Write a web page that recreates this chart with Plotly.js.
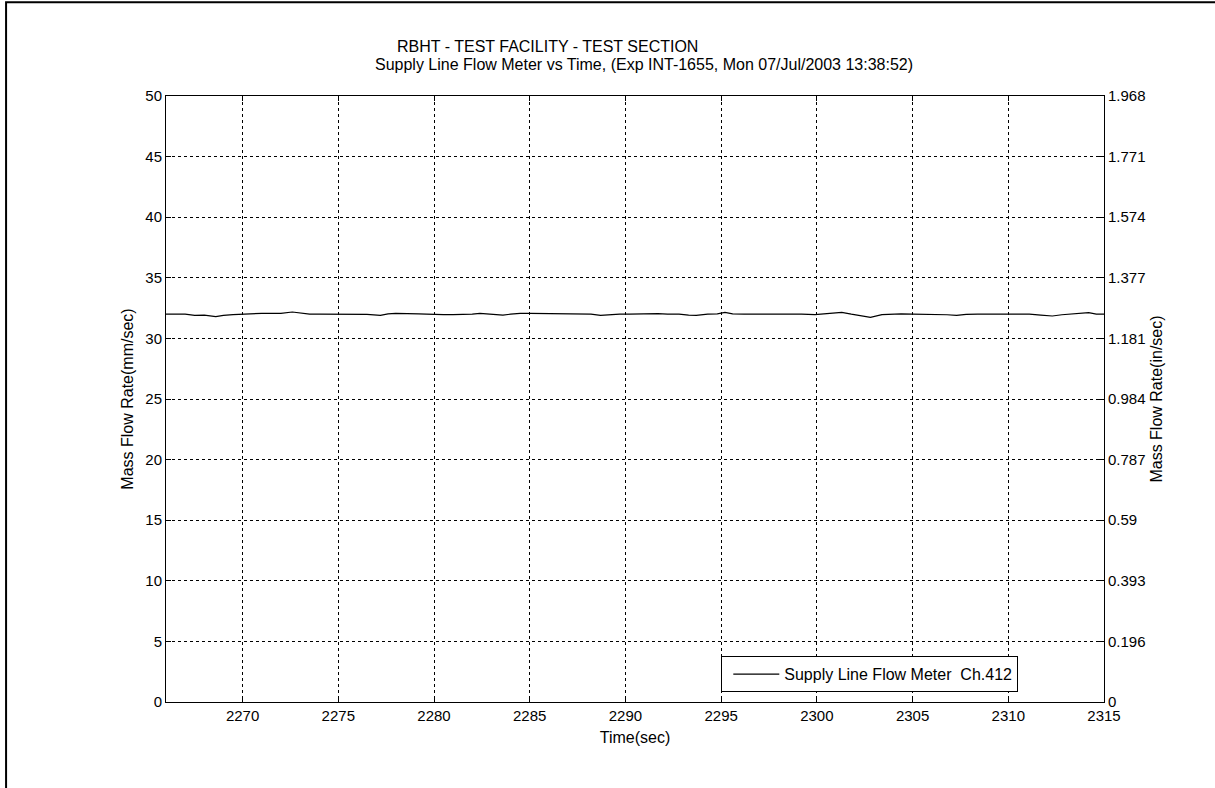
<!DOCTYPE html>
<html>
<head>
<meta charset="utf-8">
<script src="https://cdn.plot.ly/plotly-3.0.1.min.js"></script>
<style>
html,body{margin:0;padding:0;background:#fff;}
#chart{width:1215px;height:788px;}
</style>
</head>
<body>
<div id="chart"></div>
<script>
// Time (sec)
const timeSec = [2266.0, 2266.5, 2267.0, 2267.5, 2268.0, 2268.6, 2269.0, 2269.5, 2270.0, 2270.5,
  2271.0, 2271.5, 2272.0, 2272.6, 2273.0, 2273.5, 2274.0, 2274.5, 2275.0, 2275.5,
  2276.0, 2276.5, 2277.2, 2277.6, 2278.0, 2278.7, 2279.2, 2279.6, 2280.0, 2280.5,
  2281.0, 2281.5, 2282.0, 2282.4, 2283.0, 2283.6, 2284.0, 2284.5, 2285.0, 2285.7,
  2286.3, 2287.0, 2287.6, 2288.2, 2288.7, 2289.2, 2289.7, 2290.2, 2290.7, 2291.2,
  2291.7, 2292.2, 2292.8, 2293.3, 2293.7, 2294.3, 2294.8, 2295.2, 2295.6, 2296.2,
  2296.8, 2297.4, 2298.0, 2298.6, 2299.2, 2299.9, 2300.4, 2300.9, 2301.3, 2301.8,
  2302.3, 2302.8, 2303.4, 2303.9, 2304.4, 2305.0, 2305.6, 2306.2, 2306.8, 2307.3,
  2307.8, 2308.4, 2308.9, 2309.4, 2309.9, 2310.5, 2311.1, 2311.7, 2312.3, 2312.8,
  2313.3, 2313.8, 2314.2, 2314.6, 2315.0];
// Supply Line Flow Meter Ch.412 (mm/sec)
const flowRate = [32.01, 32.01, 32.00, 31.90, 31.92, 31.80, 31.90, 31.96, 32.01, 32.01,
  32.07, 32.07, 32.06, 32.18, 32.10, 32.01, 32.01, 32.01, 32.00, 32.00,
  31.98, 31.98, 31.90, 32.02, 32.07, 32.07, 32.02, 32.00, 31.96, 31.96,
  31.96, 31.96, 32.00, 32.07, 32.01, 31.92, 32.00, 32.07, 32.07, 32.07,
  32.07, 32.07, 32.04, 32.01, 31.90, 31.98, 32.01, 32.01, 32.04, 32.04,
  32.05, 32.01, 32.01, 31.92, 31.90, 32.00, 32.02, 32.15, 32.02, 32.00,
  32.01, 32.01, 32.01, 32.01, 32.01, 31.96, 32.01, 32.06, 32.15, 32.00,
  31.88, 31.74, 31.96, 32.01, 32.02, 32.01, 32.01, 32.01, 31.95, 31.90,
  31.98, 32.01, 32.01, 32.01, 32.03, 32.02, 32.01, 31.92, 31.85, 31.95,
  32.00, 32.08, 32.12, 32.01, 32.01];

const leftTicks = [0, 5, 10, 15, 20, 25, 30, 35, 40, 45, 50];
const rightTickText = ['0', '0.196', '0.393', '0.59', '0.787', '0.984', '1.181', '1.377', '1.574', '1.771', '1.968'];
const xTicks = [2270, 2275, 2280, 2285, 2290, 2295, 2300, 2305, 2310, 2315];

const titleLine1 = 'RBHT - TEST FACILITY - TEST SECTION';
const titleLine2 = 'Supply Line Flow Meter vs Time, (Exp INT-1655, Mon 07/Jul/2003 13:38:52)';
const seriesName = 'Supply Line Flow Meter  Ch.412';

const F = 'Arial, "Liberation Sans", sans-serif';
const tickFont = {family: F, size: 15, color: '#000'};
const labFont = {family: F, size: 16, color: '#000'};

const traces = [
  {x: timeSec, y: flowRate, type: 'scatter', mode: 'lines', name: seriesName,
   line: {color: '#000', width: 1.2}, xaxis: 'x', yaxis: 'y'},
  {x: timeSec, y: flowRate, type: 'scatter', mode: 'lines', showlegend: false,
   line: {color: 'rgba(0,0,0,0)', width: 0}, hoverinfo: 'skip', xaxis: 'x', yaxis: 'y2'}
];

const gridCommon = {showgrid: true, gridcolor: '#000', gridwidth: 1, griddash: '3px,3px'};

const layout = {
  width: 1215, height: 788,
  paper_bgcolor: '#fff', plot_bgcolor: '#fff',
  margin: {l: 166, r: 111, t: 96, b: 86},
  font: {family: F, size: 15, color: '#000'},
  showlegend: true,
  legend: {x: 0.592, y: 0.016, xanchor: 'left', yanchor: 'bottom',
    bgcolor: '#fff', bordercolor: '#000', borderwidth: 1, itemwidth: 52,
    font: {family: F, size: 16, color: '#000'}, tracegroupgap: 0},
  xaxis: Object.assign({
    range: [2266, 2315], tickvals: xTicks, ticktext: xTicks.map(String),
    ticks: 'inside', ticklen: 5, tickcolor: '#000',
    showline: true, linecolor: '#000', linewidth: 1, mirror: 'ticks',
    zeroline: false,
    title: {text: 'Time(sec)', font: labFont, standoff: 8},
    tickfont: tickFont
  }, gridCommon),
  yaxis: Object.assign({
    range: [0, 50], tickvals: leftTicks, ticktext: leftTicks.map(String),
    ticks: 'inside', ticklen: 5, tickcolor: '#000',
    showline: true, linecolor: '#000', linewidth: 1, mirror: true,
    zeroline: false,
    title: {text: 'Mass Flow Rate(mm/sec)', font: labFont, standoff: 7},
    tickfont: tickFont
  }, gridCommon),
  yaxis2: {
    overlaying: 'y', side: 'right', range: [0, 50],
    tickvals: leftTicks, ticktext: rightTickText,
    ticks: 'inside', ticklen: 5, tickcolor: '#000',
    showline: true, linecolor: '#000', linewidth: 1,
    showgrid: false, zeroline: false,
    title: {text: 'Mass Flow Rate(in/sec)', font: labFont, standoff: 6},
    tickfont: tickFont
  },
  annotations: [
    {text: titleLine1, xref: 'paper', yref: 'paper', x: 0.2441, y: 1.0809, xanchor: 'left', yanchor: 'middle',
     showarrow: false, font: labFont},
    {text: titleLine2, xref: 'paper', yref: 'paper', x: 0.2207, y: 1.0512, xanchor: 'left', yanchor: 'middle',
     showarrow: false, font: labFont}
  ],
  shapes: [
    {type: 'rect', xref: 'paper', yref: 'paper', x0: -0.1705, x1: 1.5, y0: -0.5, y1: 1.1545,
     line: {color: '#000', width: 2}, fillcolor: 'rgba(0,0,0,0)', layer: 'below'}
  ]
};

Plotly.newPlot('chart', traces, layout, {displayModeBar: false, staticPlot: true}).then(function () {
  // lengthen the legend's line sample to match the reference
  document.querySelectorAll('#chart .legendlines path').forEach(function (p) {
    p.setAttribute('d', 'M11,0h46');
  });
});
</script>
</body>
</html>
